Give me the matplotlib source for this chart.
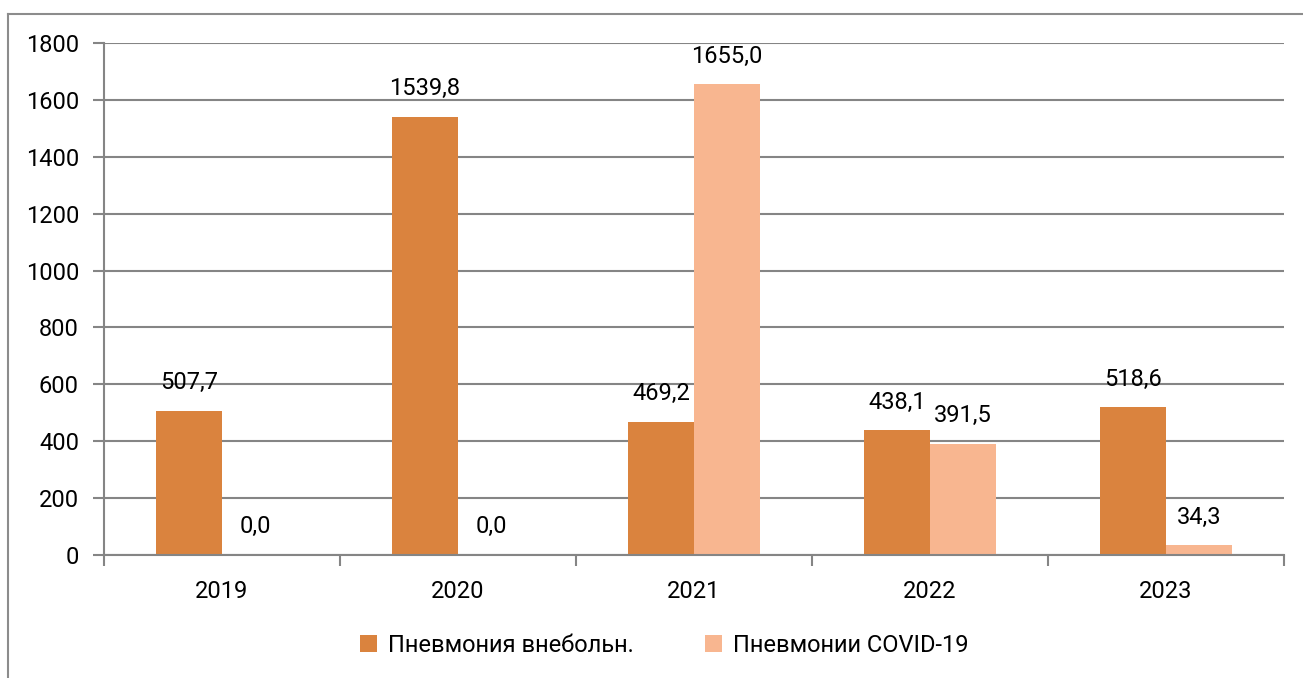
import matplotlib.pyplot as plt
from matplotlib.lines import Line2D
import numpy as np

years = ['2019', '2020', '2021', '2022', '2023']
vnebol = [507.7, 1539.8, 469.2, 438.1, 518.6]
covid = [0.0, 0.0, 1655.0, 391.5, 34.3]
names = ['Пневмония внебольн.', 'Пневмонии COVID-19']

plt.rcParams['font.family'] = ['Roboto', 'DejaVu Sans']
fs = 17

fig = plt.figure(figsize=(13.03, 6.78), dpi=100)
ax = fig.add_axes([104/1303, 1 - 555/678, 1180/1303, 512/678])

# рамка вокруг диаграммы (видны только верх и левый край)
top = 1 - 14/678
left = 8/1303
fig.lines.append(Line2D([left, 1.0], [top, top], transform=fig.transFigure,
                        color='#8c8c8c', linewidth=1.5))
fig.lines.append(Line2D([left, left], [0, top], transform=fig.transFigure,
                        color='#8c8c8c', linewidth=1.5))

x = np.arange(len(years))
w = 0.28
c1 = '#da833e'
c2 = '#f8b690'
b1 = ax.bar(x - w/2, vnebol, w, color=c1, label=names[0])
b2 = ax.bar(x + w/2, covid, w, color=c2, label=names[1])

for bars, vals in [(b1, vnebol), (b2, covid)]:
    for b, v in zip(bars, vals):
        ax.annotate(f'{v:.1f}'.replace('.', ','), (b.get_x() + b.get_width()/2, v),
                    xytext=(0, 12), textcoords='offset points',
                    ha='center', va='bottom', fontsize=fs)

ax.set_xlim(-0.5, 4.5)
ax.set_ylim(0, 1800)
ax.set_yticks(range(0, 1801, 200))
ax.yaxis.grid(True, color='#858585', linewidth=1.5)
ax.set_axisbelow(True)
for s in ['top', 'right']:
    ax.spines[s].set_visible(False)
for s in ['left', 'bottom']:
    ax.spines[s].set_color('#858585')
    ax.spines[s].set_linewidth(1.5)

ax.set_xticks(x)
ax.set_xticklabels(years)
ax.set_xticks(np.arange(-0.5, 5, 1), minor=True)
ax.tick_params(axis='x', which='major', length=0, pad=18, labelsize=fs)
ax.tick_params(axis='x', which='minor', length=8, width=1.5, color='#858585')
ax.tick_params(axis='y', length=8, width=1.5, color='#858585', labelsize=fs, pad=10)

fig.legend(loc='center', bbox_to_anchor=(0.51, 1 - 645/678), ncol=2, frameon=False,
           fontsize=fs, handlelength=0.7, handleheight=0.7, columnspacing=3, handletextpad=0.5)

fig.savefig('out.png', dpi=100)
